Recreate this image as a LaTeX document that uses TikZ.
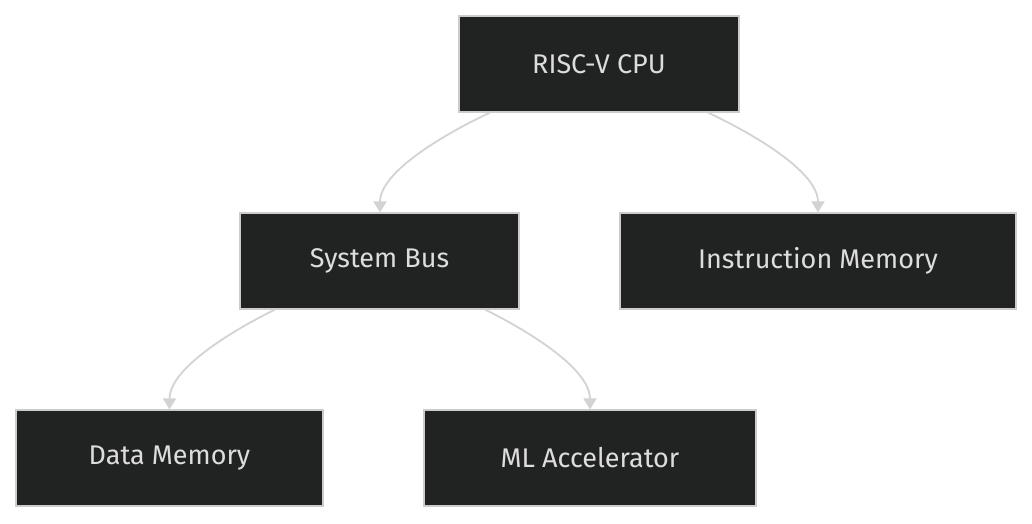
\documentclass[tikz,border=0pt]{standalone}
\usepackage{fontspec}
\setmainfont{Fira Sans}
\usetikzlibrary{arrows.meta}
\definecolor{nfill}{HTML}{212322}
\definecolor{nline}{HTML}{CCCCCC}
\definecolor{ntext}{HTML}{DDDDDD}
\definecolor{eline}{HTML}{D3D3D3}
\begin{document}
\begin{tikzpicture}[x=1pt,y=-1pt,
  box/.style={draw=nline,line width=1.2pt,fill=nfill,text=ntext,font=\fontsize{27}{30}\selectfont,inner sep=0pt,anchor=center},
  edge/.style={draw=eline,line width=1.8pt,-{Triangle[length=11pt,width=13pt]}}]
\useasboundingbox[fill=white] (0,0) rectangle (1032,523);
\node[box,minimum width=280pt,minimum height=96pt] (cpu) at (599,64) {RISC-V CPU};
\node[box,minimum width=279pt,minimum height=96pt] (bus) at (379.5,261) {System Bus};
\node[box,minimum width=396pt,minimum height=96pt] (imem) at (818,261) {Instruction Memory};
\node[box,minimum width=307pt,minimum height=96pt] (dmem) at (169.5,458) {Data Memory};
\node[box,minimum width=332pt,minimum height=96pt] (ml) at (590,458) {ML Accelerator};
\coordinate (a1) at ([xshift=-109pt]cpu.south);
\coordinate (a2) at ([xshift=109pt]cpu.south);
\coordinate (b1) at ([xshift=-104.5pt]bus.south);
\coordinate (b2) at ([xshift=105.5pt]bus.south);
\draw[edge] (a1) .. controls +(0,0) and +(0,-50) .. ([xshift=0.5pt]bus.north);
\draw[edge] (a2) .. controls +(0,0) and +(0,-50) .. (imem.north);
\draw[edge] (b1) .. controls +(0,0) and +(0,-50) .. (dmem.north);
\draw[edge] (b2) .. controls +(0,0) and +(0,-50) .. (ml.north);
\end{tikzpicture}
\end{document}
